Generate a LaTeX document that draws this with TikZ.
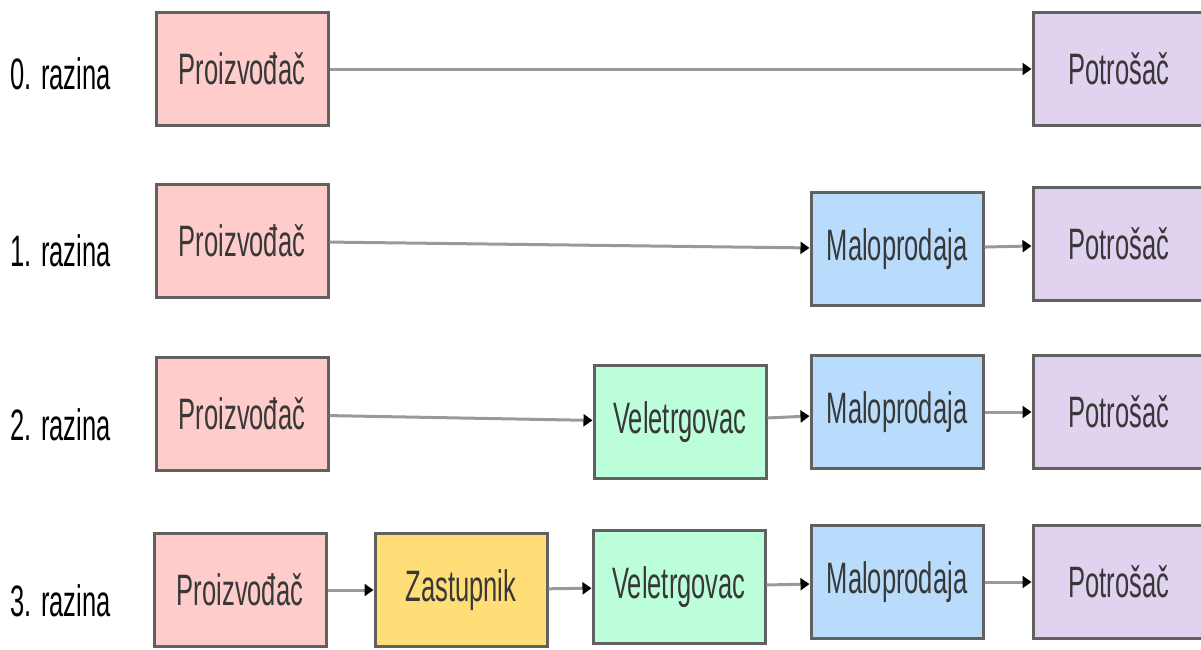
\documentclass[tikz,border=0pt]{standalone}
\usepackage{fontspec}
\setmainfont[FakeStretch=0.58]{Liberation Sans}
\usepackage{xcolor}
\usepackage{tikz}
\usetikzlibrary{arrows.meta}
\definecolor{prodfill}{HTML}{FFCCCC}
\definecolor{zastfill}{HTML}{FFDD77}
\definecolor{velefill}{HTML}{BCFDDA}
\definecolor{malofill}{HTML}{BADCFC}
\definecolor{potrfill}{HTML}{E1D2F0}

\begin{document}
\begin{tikzpicture}[x=0.5pt, y=-0.5pt]
\tikzstyle{box}=[rectangle, draw=black!62, line width=1.5pt, minimum width=86pt, minimum height=56.5pt, inner sep=0pt, text=black!78, font=\fontsize{22pt}{26pt}\selectfont]
\tikzstyle{level}=[anchor=west, inner sep=0pt, font=\fontsize{22pt}{26pt}\selectfont]
\tikzstyle{flow}=[draw=black!40, line width=1.5pt, -{Triangle[length=4.5pt, width=6pt, color=black]}]
\useasboundingbox (0,0) rectangle (1201,649);

% razine
\node[level] (l0) at (10,74) {0. razina};
\node[level] (l1) at (10,251) {1. razina};
\node[level] (l2) at (10,425) {2. razina};
\node[level] (l3) at (10,601) {3. razina};

% 0. razina
\node[box, fill=prodfill] (p0) at (242,69) {Proizvođač};
\node[box, fill=potrfill] (c0) at (1119,69) {Potrošač};

% 1. razina
\node[box, fill=prodfill] (p1) at (242,241) {Proizvođač};
\node[box, fill=malofill] (m1) at (897,249) {Maloprodaja};
\node[box, fill=potrfill] (c1) at (1119,244) {Potrošač};

% 2. razina
\node[box, fill=prodfill] (p2) at (242,414) {Proizvođač};
\node[box, fill=velefill] (v2) at (680,422) {Veletrgovac};
\node[box, fill=malofill] (m2) at (897,412) {Maloprodaja};
\node[box, fill=potrfill] (c2) at (1119,412) {Potrošač};

% 3. razina
\node[box, fill=prodfill] (p3) at (240,590) {Proizvođač};
\node[box, fill=zastfill] (z3) at (461,590) {Zastupnik};
\node[box, fill=velefill] (v3) at (679,587) {Veletrgovac};
\node[box, fill=malofill] (m3) at (897,582) {Maloprodaja};
\node[box, fill=potrfill] (c3) at (1119,582) {Potrošač};

\path[flow]
(p0) edge (c0)
(p1) edge (m1)
(m1) edge (c1)
(p2) edge (v2)
(v2) edge (m2)
(m2) edge (c2)
(p3) edge (z3)
(z3) edge (v3)
(v3) edge (m3)
(m3) edge (c3);

\end{tikzpicture}
\end{document}
